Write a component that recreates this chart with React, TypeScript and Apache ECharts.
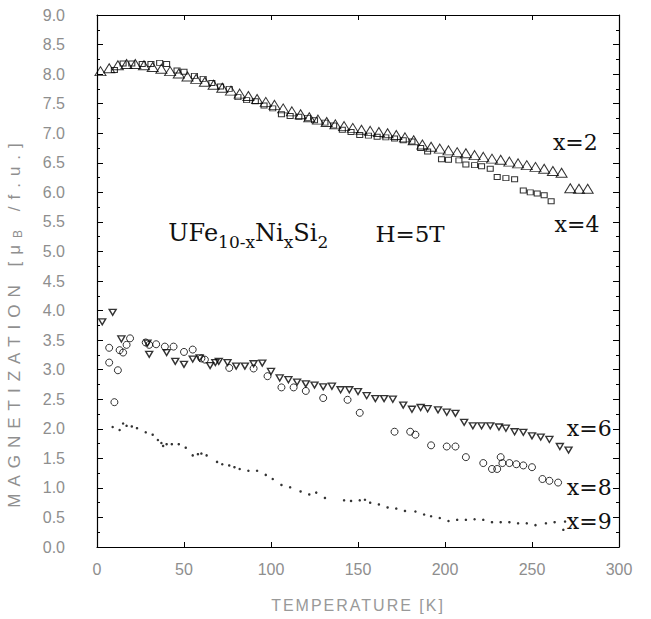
import React, { useEffect, useRef } from "react";
import * as echarts from "echarts";

// x = 2 (open triangles)
const x2T = [2, 7, 12, 17, 22, 27, 32, 37, 42, 47, 52, 57, 62, 67, 72, 77, 82, 87, 92, 97, 102, 107, 112, 117, 122, 127, 132, 137, 142, 147, 152, 157, 162, 167, 172, 177, 182, 187, 192, 197, 202, 207, 212, 217, 222, 227, 232, 237, 242, 247, 252, 257, 262, 267, 272, 277, 282];
const x2M = [8.05, 8.10, 8.15, 8.17, 8.17, 8.15, 8.12, 8.09, 8.05, 8.01, 7.96, 7.92, 7.87, 7.82, 7.77, 7.72, 7.67, 7.63, 7.58, 7.53, 7.48, 7.42, 7.37, 7.32, 7.27, 7.23, 7.19, 7.15, 7.12, 7.09, 7.06, 7.04, 7.02, 7.00, 6.97, 6.93, 6.88, 6.81, 6.77, 6.74, 6.71, 6.68, 6.66, 6.63, 6.60, 6.57, 6.55, 6.52, 6.49, 6.46, 6.43, 6.40, 6.36, 6.33, 6.07, 6.06, 6.06];

// x = 4 (open squares)
const x4T = [10, 15, 20, 26, 31, 36, 40, 46, 50, 56, 61, 66, 71, 76, 81, 86, 91, 96, 101, 106, 111, 116, 121, 125, 131, 136, 141, 146, 151, 156, 161, 166, 171, 176, 181, 186, 190, 198, 202, 208, 212, 217, 221, 226, 230, 235, 240, 245, 249, 253, 257, 261];
const x4M = [8.07, 8.18, 8.18, 8.17, 8.17, 8.19, 8.17, 8.06, 8.04, 7.97, 7.92, 7.85, 7.79, 7.75, 7.61, 7.56, 7.54, 7.47, 7.42, 7.32, 7.29, 7.28, 7.26, 7.22, 7.18, 7.13, 7.06, 7.02, 6.97, 6.96, 6.94, 6.93, 6.91, 6.88, 6.86, 6.75, 6.69, 6.56, 6.55, 6.54, 6.47, 6.46, 6.44, 6.40, 6.26, 6.24, 6.22, 6.03, 6.00, 5.98, 5.95, 5.85];

// x = 6 (open inverted triangles)
const x6T = [3, 9, 14, 29, 30, 40, 45, 50, 55, 59, 65, 68, 70, 75, 80, 85, 90, 95, 100, 105, 110, 115, 120, 125, 130, 135, 140, 145, 150, 155, 160, 165, 170, 176, 181, 186, 190, 196, 201, 206, 211, 216, 221, 226, 231, 235, 240, 245, 250, 255, 260, 266, 271];
const x6M = [3.81, 3.97, 3.52, 3.45, 3.26, 3.29, 3.14, 3.09, 3.18, 3.20, 3.07, 3.12, 3.14, 3.12, 3.06, 3.06, 3.10, 3.11, 2.97, 2.86, 2.83, 2.79, 2.76, 2.74, 2.71, 2.72, 2.66, 2.66, 2.63, 2.56, 2.51, 2.51, 2.50, 2.40, 2.33, 2.36, 2.34, 2.32, 2.28, 2.26, 2.11, 2.05, 2.05, 2.05, 2.03, 2.01, 1.95, 1.94, 1.88, 1.86, 1.82, 1.70, 1.64];

// x = 8 (open circles)
const x8T = [7, 7, 10, 12, 13, 15, 17, 19, 28, 30, 34, 39, 44, 50, 55, 60, 62, 76, 90, 98, 106, 113, 120, 130, 144, 151, 171, 180, 183, 192, 201, 206, 212, 222, 227, 230, 232, 233, 237, 241, 245, 250, 256, 260, 265];
const x8M = [3.37, 3.12, 2.45, 2.99, 3.33, 3.29, 3.42, 3.53, 3.46, 3.42, 3.43, 3.39, 3.39, 3.30, 3.34, 3.19, 3.17, 3.03, 3.02, 2.89, 2.70, 2.70, 2.64, 2.52, 2.49, 2.27, 1.95, 1.95, 1.90, 1.72, 1.70, 1.70, 1.52, 1.42, 1.32, 1.32, 1.52, 1.42, 1.42, 1.40, 1.38, 1.35, 1.15, 1.12, 1.09];

// x = 9 (small dots)
const x9T = [9, 13, 15, 17, 20, 23, 28, 32, 35, 37, 38, 40, 43, 47, 51, 55, 58, 60, 63, 69, 72, 76, 79, 82, 87, 92, 97, 101, 106, 111, 117, 122, 126, 131, 142, 146, 151, 154, 157, 162, 167, 172, 177, 183, 188, 192, 197, 202, 207, 212, 217, 222, 227, 232, 237, 242, 247, 252, 258, 263, 268, 269];
const x9M = [2.03, 1.98, 2.09, 2.05, 2.04, 2.01, 1.94, 1.90, 1.81, 1.76, 1.71, 1.74, 1.74, 1.74, 1.68, 1.55, 1.57, 1.58, 1.55, 1.44, 1.40, 1.38, 1.35, 1.32, 1.29, 1.29, 1.22, 1.15, 1.05, 1.01, 0.94, 0.89, 0.92, 0.83, 0.79, 0.78, 0.79, 0.80, 0.75, 0.72, 0.67, 0.65, 0.61, 0.60, 0.55, 0.52, 0.49, 0.44, 0.46, 0.46, 0.47, 0.46, 0.42, 0.42, 0.42, 0.40, 0.40, 0.37, 0.40, 0.42, 0.29, 0.43];

// Curve labels (text, anchor in data coordinates)
const curveLabels = ["x=2", "x=4", "x=6", "x=8", "x=9"];
const curveLabelT = [262, 263, 270, 270, 270];
const curveLabelM = [6.85, 5.45, 2.0, 1.0, 0.43];

const xMin = 0, xMax = 300, xStep = 50;
const yMin = 0, yMax = 9, yStep = 0.5;
const yTitle = "MAGNETIZATION [μB /f.u.]";
const xTitle = "TEMPERATURE [K]";

const pairs = (t: number[], m: number[]) => t.map((v, i) => [v, m[i]]);

export default function App() {
  const ref = useRef<HTMLDivElement>(null);
  useEffect(() => {
    document.body.style.margin = "0";
    const chart = echarts.init(ref.current!, null, { renderer: "svg" });
    const labelColor = "#8e8e8e";
    const axisLine = { show: true, onZero: false, lineStyle: { color: "#000", width: 1.2 } };
    const baseX = {
      type: "value", min: xMin, max: xMax, interval: xStep,
      axisLine, splitLine: { show: false },
      axisTick: { show: true, inside: true, length: 5, lineStyle: { color: "#000", width: 1 } },
    };
    const baseY = {
      type: "value", min: yMin, max: yMax, interval: yStep,
      axisLine, splitLine: { show: false },
      axisTick: { show: true, inside: true, length: 6, lineStyle: { color: "#000", width: 1 } },
      minorTick: { show: true, splitNumber: 2, length: 3, lineStyle: { color: "#000", width: 1 } },
    };
    const open = (w = 1) => ({ color: "transparent", borderColor: "#000", borderWidth: w });
    chart.setOption({
      animation: false,
      backgroundColor: "#fff",
      grid: { left: 97, right: 32, top: 15, bottom: 72, containLabel: false },
      xAxis: [
        {
          ...baseX, position: "bottom",
          axisLabel: { color: labelColor, fontSize: 16, fontFamily: "Liberation Sans", margin: 14 },
          name: xTitle, nameLocation: "middle", nameGap: 50,
          nameTextStyle: { color: "#999", fontSize: 16, fontFamily: "Liberation Sans" },
        },
        { ...baseX, position: "top", axisLabel: { show: false } },
      ],
      yAxis: [
        {
          ...baseY, position: "left",
          axisLabel: { color: labelColor, fontSize: 16, fontFamily: "Liberation Sans", margin: 32, formatter: (v: number) => v.toFixed(1) },
        },
        { ...baseY, position: "right", axisLabel: { show: false } },
      ],
      series: [
        { type: "scatter", name: "x=2", data: pairs(x2T, x2M), symbol: "triangle", symbolSize: [11, 9], itemStyle: open(1) },
        { type: "scatter", name: "x=4", data: pairs(x4T, x4M), symbol: "rect", symbolSize: [6, 5], itemStyle: open(1) },
        { type: "scatter", name: "x=6", data: pairs(x6T, x6M), symbol: "triangle", symbolRotate: 180, symbolSize: [7, 6], itemStyle: open(1.4) },
        { type: "scatter", name: "x=8", data: pairs(x8T, x8M), symbol: "circle", symbolSize: 7, itemStyle: open(1) },
        { type: "scatter", name: "x=9", data: pairs(x9T, x9M), symbol: "circle", symbolSize: 2.5, itemStyle: { color: "#000" } },
      ],
    });

    const toPx = (t: number, m: number) => chart.convertToPixel({ xAxisIndex: 0, yAxisIndex: 0 }, [t, m]) as number[];
    const serif = "DejaVu Serif";
    const graphics: any[] = curveLabels.map((txt, i) => {
      const p = toPx(curveLabelT[i], curveLabelM[i]);
      return {
        type: "text", x: p[0], y: p[1],
        style: { text: txt, fill: "#111", font: `22px "${serif}"`, textAlign: "left", textVerticalAlign: "middle" },
      };
    });
    const tp = toPx(41, 5.25);
    graphics.push({
      type: "text", x: tp[0], y: tp[1],
      style: {
        text: "{m|UFe}{s|10-x}{m|Ni}{s|x}{m|Si}{s|2}",
        textAlign: "left", textVerticalAlign: "middle", fill: "#111",
        rich: {
          m: { fontSize: 24, fontFamily: serif, fill: "#111", padding: [0, 0, 8, 0] },
          s: { fontSize: 17, fontFamily: serif, fill: "#111", padding: [10, 0, 0, 0] },
        },
      },
    });
    const hp = toPx(160, 5.3);
    graphics.push({
      type: "text", x: hp[0], y: hp[1],
      style: { text: "H=5T", fill: "#111", font: `23px "${serif}"`, textAlign: "left", textVerticalAlign: "middle" },
    });
    graphics.push({
      type: "text", x: 14, y: 322, rotation: Math.PI / 2,
      style: {
        text: yTitle, fill: "#8f8f8f", font: `17px "Liberation Sans"`,
        textAlign: "center", textVerticalAlign: "middle",
      },
    });
    chart.setOption({ graphic: graphics });

    // Spread the axis titles like the plotter lettering and set the B subscript.
    const ns = "http://www.w3.org/2000/svg";
    const fix = () => {
      const root = ref.current;
      if (!root) return;
      root.querySelectorAll("text").forEach((el) => {
        const t = el.textContent || "";
        if (t === yTitle && !el.getAttribute("data-fixed")) {
          el.setAttribute("data-fixed", "1");
          (el as any).style.letterSpacing = "7px";
          while (el.firstChild) el.removeChild(el.firstChild);
          el.appendChild(document.createTextNode("MAGNETIZATION [μ"));
          const b = document.createElementNS(ns, "tspan");
          b.setAttribute("dy", "4");
          (b as any).style.fontSize = "12px";
          b.textContent = "B";
          el.appendChild(b);
          const rest = document.createElementNS(ns, "tspan");
          rest.setAttribute("dy", "-4");
          rest.textContent = "\u00a0/f.u.]";
          el.appendChild(rest);
        } else if (t === xTitle) {
          (el as any).style.letterSpacing = "2px";
        }
      });
    };
    chart.on("finished", fix);
    fix();
    const timer = setTimeout(fix, 30);
    return () => {
      clearTimeout(timer);
      chart.dispose();
    };
  }, []);
  return <div ref={ref} style={{ position: "absolute", left: 0, top: 0, width: 651, height: 619, background: "#fff" }} />;
}
